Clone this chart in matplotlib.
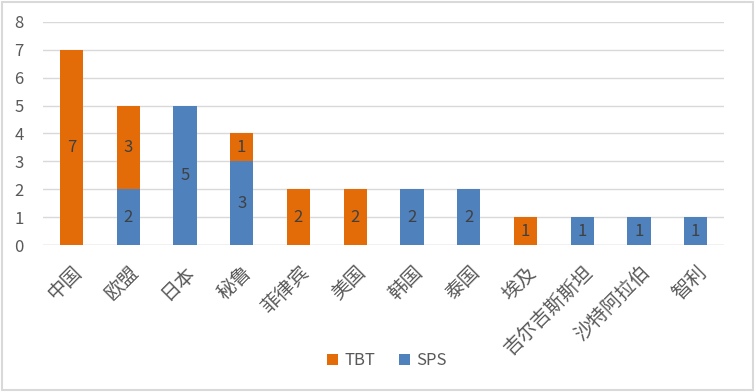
import matplotlib.pyplot as plt
import numpy as np
from matplotlib.patches import Rectangle

plt.rcParams['font.family'] = ['Noto Sans CJK SC', 'DejaVu Sans']

# Data
countries = ["中国", "欧盟", "日本", "秘鲁", "菲律宾", "美国", "韩国", "泰国",
             "埃及", "吉尔吉斯斯坦", "沙特阿拉伯", "智利"]
sps = [0, 2, 5, 3, 0, 0, 2, 2, 0, 1, 1, 1]
tbt = [7, 3, 0, 1, 2, 2, 0, 0, 1, 0, 0, 0]

ORANGE = "#E36C09"
BLUE = "#4F81BD"
TXT = "#595959"

fig = plt.figure(figsize=(7.55, 3.92), dpi=100)
ax = fig.add_axes([0.057, 0.375, 0.902, 0.569])

x = np.arange(len(countries))
w = 0.41
b_sps = ax.bar(x, sps, w, color=BLUE, label="SPS", zorder=3)
b_tbt = ax.bar(x, tbt, w, bottom=sps, color=ORANGE, label="TBT", zorder=3)

# value labels inside segments
for i in range(len(countries)):
    if sps[i]:
        ax.text(x[i], sps[i] / 2, str(sps[i]), ha="center", va="center",
                fontsize=12, color="#404040", zorder=4)
    if tbt[i]:
        ax.text(x[i], sps[i] + tbt[i] / 2, str(tbt[i]), ha="center", va="center",
                fontsize=12, color="#404040", zorder=4)

ax.set_xlim(-0.5, len(countries) - 0.5)
ax.set_ylim(0, 8)
ax.set_yticks(range(0, 9))
ax.yaxis.grid(True, color="#D9D9D9", linewidth=1, zorder=0)
for s in ax.spines.values():
    s.set_visible(False)
ax.tick_params(axis="both", length=0, colors=TXT, labelsize=12)
ax.tick_params(axis="y", pad=14)
ax.set_xticks(x)
ax.set_xticklabels(countries, rotation=45, ha="right", rotation_mode="anchor",
                   fontsize=14, color=TXT, fontweight="light")
ax.tick_params(axis="x", pad=12)
ax.axhline(0, color="#D9D9D9", linewidth=1, zorder=2)

handles = [b_tbt, b_sps]
leg = fig.legend(handles, ["TBT", "SPS"], loc="center", ncol=2,
                 bbox_to_anchor=(0.513, 0.08), frameon=False, fontsize=12,
                 handlelength=0.65, handleheight=0.65, columnspacing=1.4,
                 handletextpad=0.4)
for t in leg.get_texts():
    t.set_color(TXT)

# outer border
fig.patches.append(Rectangle((0.003, 0.004), 0.994, 0.992, transform=fig.transFigure,
                             fill=False, edgecolor="#D9D9D9", linewidth=1.5))

fig.savefig("out.png", dpi=100)
